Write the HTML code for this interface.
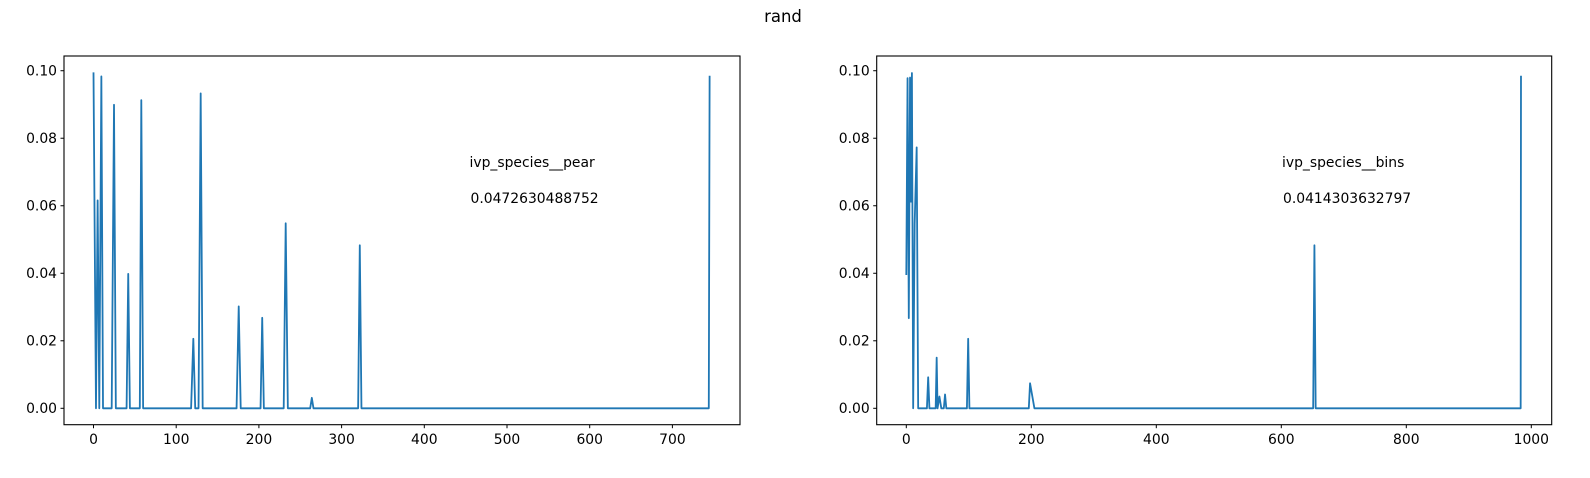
<!DOCTYPE html>
<html><head><meta charset="utf-8"><style>
html,body{margin:0;padding:0;background:#fff;}
svg{display:block;font-family:"DejaVu Sans","Liberation Sans",sans-serif;}
</style></head><body>
<svg id="fig" width="1590" height="478" viewBox="0 0 1590 478" xmlns="http://www.w3.org/2000/svg">
<text x="783" y="22" font-size="16.5" text-anchor="middle">rand</text>
</svg>
<script>
// Left chart data (polyline vertices)
const leftX = [0,3,5,7,9.5,11.5,22,24.8,27,40,42,44,56,57.8,60,118,120.7,123,127,129.6,132,173,175.6,178,202,204,206,230,232.4,235,262,264,266,320,322,324,744,745];
const leftY = [0.0995,0,0.0616,0,0.0983,0,0,0.0899,0,0,0.0398,0,0,0.0913,0,0,0.0206,0,0,0.0933,0,0,0.0302,0,0,0.0268,0,0,0.0548,0,0,0.0031,0,0,0.0483,0,0,0.0985];
const leftLabel = "ivp_species__pear";
const leftValue = "0.0472630488752";
const leftXTicks = [0,100,200,300,400,500,600,700];
// Right chart data
const rightX = [0,2,4,6,7.5,9,11,13.4,16.6,19,33,35,37,47,48.6,50,53,56,60,62,64,97,99,101,196,198,205,651,653,655,983,983.5];
const rightY = [0.0395,0.0978,0.0267,0.098,0.0612,0.0993,0,0.0548,0.0773,0,0,0.0092,0,0,0.015,0,0.0035,0,0,0.0041,0,0,0.0206,0,0,0.0074,0,0,0.0483,0,0,0.0985];
const rightLabel = "ivp_species__bins";
const rightValue = "0.0414303632797";
const rightXTicks = [0,200,400,600,800,1000];
const yTicks = [0,0.02,0.04,0.06,0.08,0.10];
const yTickLabels = ["0.00","0.02","0.04","0.06","0.08","0.10"];

const NS="http://www.w3.org/2000/svg";
const svg=document.getElementById('fig');
function mk(tag,attrs,parent){const e=document.createElementNS(NS,tag);for(const k in attrs)e.setAttribute(k,attrs[k]);(parent||svg).appendChild(e);return e;}

function chart(cfg){
  const g=mk('g',{});
  
  
  const L=cfg.left,R=cfg.right,T=56,B=424.7;
  const sx=v=>cfg.x0+v*cfg.kx;
  const sy=v=>408.3-v*3375.8;
  yTicks.forEach((t,i)=>{
    const y=sy(t);
    const tk=mk('line',{x1:L-3.5,x2:L,y1:y,y2:y,stroke:'#000','stroke-width':1},g);
    
    
    const tx=mk('text',{x:L-7,y:y+4.8,'font-size':13.9,'text-anchor':'end'},g);
    
    
    tx.textContent=yTickLabels[i];
  });
  cfg.xticks.forEach(t=>{
    const x=sx(t);
    const tk=mk('line',{x1:x,x2:x,y1:B,y2:B+3.5,stroke:'#000','stroke-width':1},g);
    
    
    const tx=mk('text',{x:x,y:B+19.5,'font-size':13.9,'text-anchor':'middle'},g);
    
    
    tx.textContent=String(t);
  });
  const pts=cfg.xs.map((v,i)=>sx(v).toFixed(2)+','+sy(cfg.ys[i]).toFixed(2)).join(' ');
  const ln=mk('polyline',{points:pts,fill:'none',stroke:'#1f77b4','stroke-width':1.8,'stroke-linejoin':'round'},g);
  
  
  const fr=mk('rect',{x:L,y:T,width:R-L,height:B-T,fill:'none',stroke:'#000','stroke-width':1.1},g);
  
  
  const t1=mk('text',{x:cfg.tx,y:167,'font-size':13.9},g);
  
  
  t1.textContent=cfg.label;
  const t2=mk('text',{x:cfg.tx+1,y:203,'font-size':13.9},g);
  
  
  t2.textContent=cfg.value;
}
chart({name:'left-chart',left:64,right:740,x0:93.5,kx:0.827,xticks:leftXTicks,xs:leftX,ys:leftY,label:leftLabel,value:leftValue,tx:469.5});
chart({name:'right-chart',left:876.7,right:1551.7,x0:906.3,kx:0.625,xticks:rightXTicks,xs:rightX,ys:rightY,label:rightLabel,value:rightValue,tx:1282});
</script>
</body></html>
